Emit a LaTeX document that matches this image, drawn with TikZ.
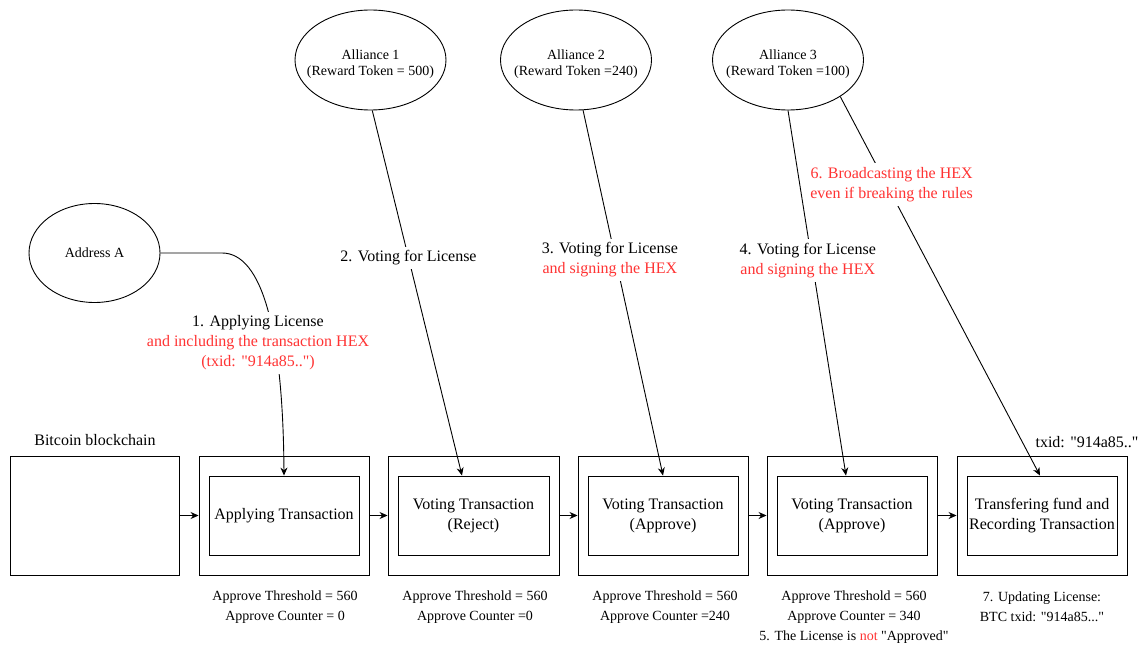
\documentclass[tikz,border=0pt]{standalone}
\usepackage{fontspec}
\setmainfont{Liberation Serif}[Ligatures=TeXOff]
\usetikzlibrary{shapes.geometric,arrows.meta}
\definecolor{hexred}{RGB}{255,51,51}
\newcommand\bigtxt{\fontsize{16}{20}\selectfont}
\newcommand\smalltxt{\fontsize{14}{16}\selectfont}
\newcommand\notetxt{\fontsize{14}{20}\selectfont}

\begin{document}
\begin{tikzpicture}[x=1pt,y=-1pt,
  line width=0.9pt,
  party/.style={ellipse, draw, minimum width=151pt, minimum height=100pt, inner sep=0pt, align=center, font=\smalltxt},
  partytext/.style={align=center, font=\smalltxt, yshift=-4.5pt, inner sep=0pt},
  blockbox/.style={rectangle, draw, minimum width=170pt, minimum height=119pt, inner sep=0pt},
  txbox/.style={rectangle, draw, minimum width=150pt, minimum height=79pt, inner sep=0pt, align=center, font=\bigtxt},
  flow/.style={-{Stealth[length=8pt,width=7pt]}},
  steplabel/.style={fill=white, align=center, font=\bigtxt, inner xsep=2pt, inner ysep=4pt},
  note/.style={align=center, font=\notetxt}
]
\useasboundingbox (0,0) rectangle (1145,652);

% chain of blocks
\node[blockbox, minimum width=169pt] (btc) at (94.5,515.5) {};
\node[font=\bigtxt] (btclabel) at (95,440) {Bitcoin blockchain};

\node[blockbox] (b1) at (284,515.5) {};
\node[txbox] (t1) at (284,515.5) {Applying Transaction};
\node[blockbox, minimum width=171pt] (b2) at (473.5,515.5) {};
\node[txbox, minimum width=151pt] (t2) at (473.5,515.5) {Voting Transaction\\(Reject)};
\node[blockbox] (b3) at (663,515.5) {};
\node[txbox] (t3) at (663,515.5) {Voting Transaction\\(Approve)};
\node[blockbox] (b4) at (852,515.5) {};
\node[txbox] (t4) at (852,515.5) {Voting Transaction\\(Approve)};
\node[blockbox] (b5) at (1042,515.5) {};
\node[txbox] (t5) at (1042,515.5) {Transfering fund and\\Recording Transaction};

\draw[flow] (btc) -- (b1);
\draw[flow] (b1) -- (b2);
\draw[flow] (b2) -- (b3);
\draw[flow] (b3) -- (b4);
\draw[flow] (b4) -- (b5);

\node[font=\bigtxt] (txid) at (1087,442) {txid: "914a85.."};

% participants
\node[party, minimum width=131pt, minimum height=99pt] (addr) at (94.5,253) {Address A};
\node[party, label={[partytext]center:Alliance 1\\(Reward Token = 500)}] (a1) at (370.5,60) {};
\node[party, label={[partytext]center:Alliance 2\\(Reward Token =240)}] (a2) at (576,60) {};
\node[party, label={[partytext]center:Alliance 3\\(Reward Token =100)}] (a3) at (788,60) {};

% messages
\draw[flow] (addr.east) -- (222,253) .. controls (262,253) and (283,330) .. (t1.north);
\node[steplabel] (l1) at (258,343) {1. Applying License\\\textcolor{hexred}{and including the transaction HEX}\\\textcolor{hexred}{(txid: "914a85..")}};

\draw[flow] (a1.-88) -- node[steplabel, pos=0.404] (l2) {2. Voting for License} ([xshift=-11.5pt]t2.north);
\draw[flow] (a2.-82) -- node[steplabel, pos=0.41, xshift=-6pt] (l3) {3. Voting for License\\\textcolor{hexred}{and signing the HEX}} (t3.north);
\draw[flow] (a3.-90) -- node[steplabel, pos=0.41, xshift=-4pt] (l4) {4. Voting for License\\\textcolor{hexred}{and signing the HEX}} ([xshift=-6pt]t4.north);
\draw[flow] (a3.-35) -- node[steplabel, pos=0.232, xshift=5pt, text=hexred] (l6) {6. Broadcasting the HEX\\even if breaking the rules} ([xshift=-2pt]t5.north);

% counters under the blocks
\node[note] (n1) at (285,607) {Approve Threshold = 560\\Approve Counter = 0};
\node[note] (n2) at (475,607) {Approve Threshold = 560\\Approve Counter =0};
\node[note] (n3) at (665,607) {Approve Threshold = 560\\Approve Counter =240};
\node[note] (n4) at (854,617) {Approve Threshold = 560\\Approve Counter = 340\\5. The License is \textcolor{hexred}{not} "Approved"};
\node[note] (n5) at (1042,607) {7. Updating License:\\BTC txid: "914a85..."};
\end{tikzpicture}
\end{document}
